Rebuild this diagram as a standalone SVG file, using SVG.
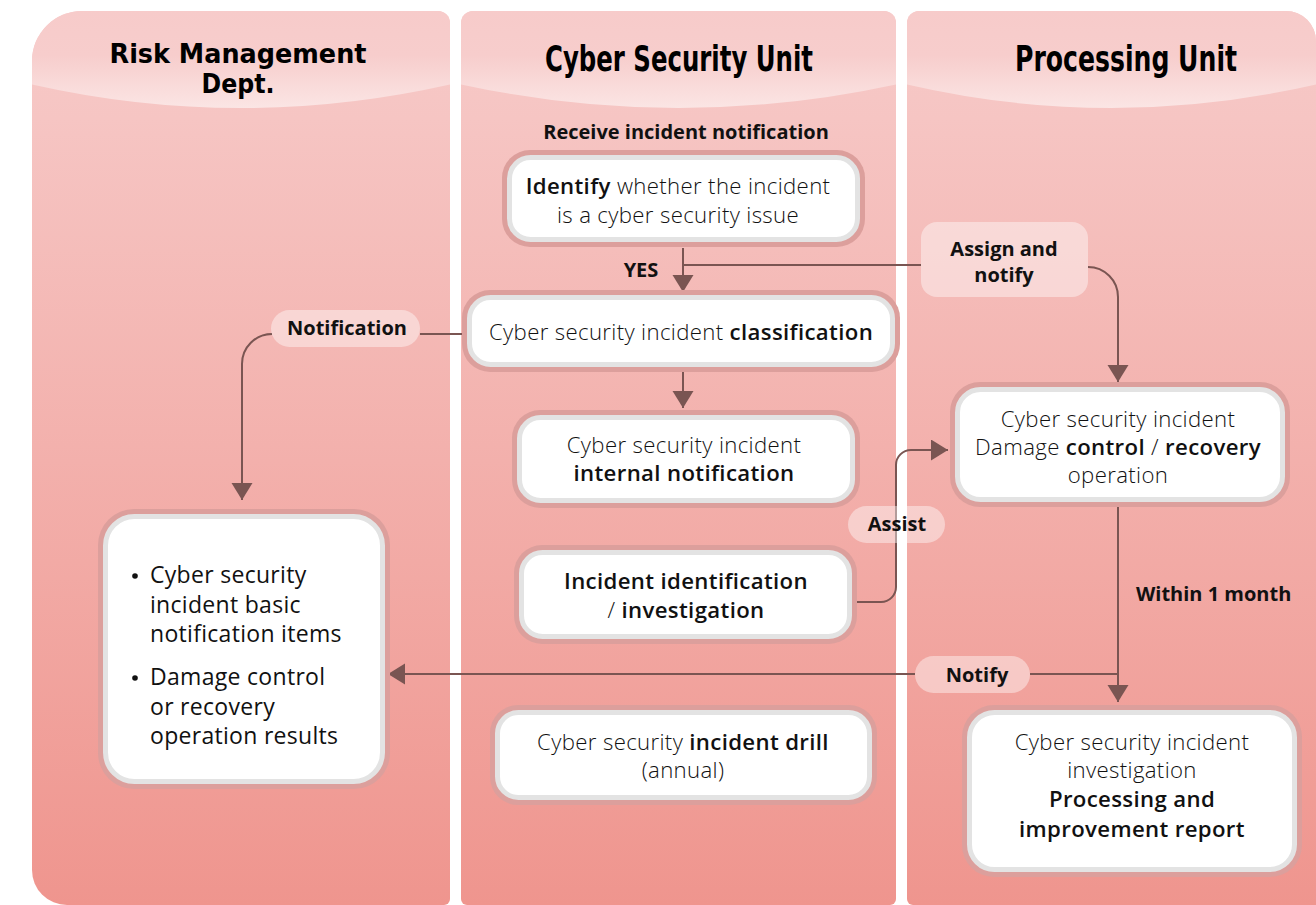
<svg xmlns="http://www.w3.org/2000/svg" width="1316" height="905" viewBox="0 0 1316 905">
<defs>
<linearGradient id="body" gradientUnits="userSpaceOnUse" x1="0" y1="11" x2="0" y2="905">
<stop offset="0" stop-color="#f7cac8"/>
<stop offset="0.12" stop-color="#f6c5c3"/>
<stop offset="1" stop-color="#ef958e"/>
</linearGradient>
<linearGradient id="head" gradientUnits="userSpaceOnUse" x1="0" y1="11" x2="0" y2="110">
<stop offset="0" stop-color="#f7cbca"/>
<stop offset="0.45" stop-color="#f7cdcc"/>
<stop offset="1" stop-color="#fbe6e5"/>
</linearGradient>
<clipPath id="c1"><path d="M82,11 H438 A12,12 0 0 1 450,23 V899 A6,6 0 0 1 444,905 H67 A35,35 0 0 1 32,870 V61 A50,50 0 0 1 82,11 Z"/></clipPath>
<clipPath id="c2"><path d="M473,11 H884 A12,12 0 0 1 896,23 V899 A6,6 0 0 1 890,905 H467 A6,6 0 0 1 461,899 V23 A12,12 0 0 1 473,11 Z"/></clipPath>
<clipPath id="c3"><path d="M919,11 H1286 A30,30 0 0 1 1316,41 V905 H913 A6,6 0 0 1 907,899 V23 A12,12 0 0 1 919,11 Z"/></clipPath>
<marker id="ah" markerUnits="userSpaceOnUse" markerWidth="18" markerHeight="22" refX="17" refY="10.5" orient="auto" viewBox="0 0 18 22">
<path d="M0,0 L17,10.5 L0,21 Z" fill="#7a5552"/>
</marker>
<style>
.hd{font-family:"Liberation Sans Narrow","DejaVu Sans Condensed","Liberation Sans",sans-serif;font-weight:bold;fill:#000;text-anchor:middle}
.t{font-family:"Open Sans","Noto Sans","Liberation Sans",sans-serif;font-size:22.2px;letter-spacing:0.35px;fill:#111;text-anchor:middle;font-weight:300}
.b{font-weight:600}
.lb{font-family:"Open Sans","Noto Sans","Liberation Sans",sans-serif;font-size:20px;font-weight:700;fill:#111;text-anchor:middle}
.lt{font-family:"Open Sans","Noto Sans","Liberation Sans",sans-serif;font-size:23px;letter-spacing:0.3px;font-weight:400;fill:#111}
.rim{fill:#dc9f9c}
.in{fill:#fff;stroke:#e3e3e3;stroke-width:5}
.pill{fill:#fff;fill-opacity:0.42}
.cn{fill:none;stroke:#7a5552;stroke-width:2}
</style>
</defs>

<g id="lanes">
<g id="lane-risk">
<path d="M82,11 H438 A12,12 0 0 1 450,23 V899 A6,6 0 0 1 444,905 H67 A35,35 0 0 1 32,870 V61 A50,50 0 0 1 82,11 Z" fill="url(#body)"/>
<path clip-path="url(#c1)" d="M30,0 H452 V84 Q241,132 30,84 Z" fill="url(#head)"/>
<text class="hd" font-size="26"><tspan x="238" y="63" textLength="257" lengthAdjust="spacingAndGlyphs">Risk Management</tspan><tspan x="238" y="93" textLength="73" lengthAdjust="spacingAndGlyphs">Dept.</tspan></text>
</g>
<g id="lane-cyber">
<path d="M473,11 H884 A12,12 0 0 1 896,23 V899 A6,6 0 0 1 890,905 H467 A6,6 0 0 1 461,899 V23 A12,12 0 0 1 473,11 Z" fill="url(#body)"/>
<path clip-path="url(#c2)" d="M459,0 H898 V84 Q678.5,132 459,84 Z" fill="url(#head)"/>
<text class="hd" x="679" y="71" font-size="35" textLength="268" lengthAdjust="spacingAndGlyphs">Cyber Security Unit</text>
</g>
<g id="lane-proc">
<path d="M919,11 H1286 A30,30 0 0 1 1316,41 V905 H913 A6,6 0 0 1 907,899 V23 A12,12 0 0 1 919,11 Z" fill="url(#body)"/>
<path clip-path="url(#c3)" d="M905,0 H1318 V84 Q1111,132 905,84 Z" fill="url(#head)"/>
<text class="hd" x="1126" y="71" font-size="35" textLength="222" lengthAdjust="spacingAndGlyphs">Processing Unit</text>
</g>
</g>

<g id="connectors">
<path class="cn" d="M683,248 V292" marker-end="url(#ah)"/>
<path class="cn" d="M683,265 H921"/>
<path class="cn" d="M1088,267 A30,30 0 0 1 1118,297 V382" marker-end="url(#ah)"/>
<path class="cn" d="M462,334 H420"/>
<path class="cn" d="M272,334 A30,30 0 0 0 242,364 V500" marker-end="url(#ah)"/>
<path class="cn" d="M683,372 V408" marker-end="url(#ah)"/>
<path class="cn" d="M853,602 H881 A15,15 0 0 0 896,587 V465 A15,15 0 0 1 911,450 H948" marker-end="url(#ah)"/>
<path class="cn" d="M1118,506 V702" marker-end="url(#ah)"/>
<path class="cn" d="M1118,674 H1030"/>
<path class="cn" d="M915,674 H388" marker-end="url(#ah)"/>
</g>

<g id="labels">
<g id="lbl-receive"><text class="lb" x="686" y="139">Receive incident notification</text></g>
<g id="lbl-yes"><text class="lb" x="641" y="277">YES</text></g>
<g id="lbl-notification"><rect class="pill" x="271" y="310" width="149" height="37" rx="18.5"/><text class="lb" x="347" y="335">Notification</text></g>
<g id="lbl-assign"><rect class="pill" x="921" y="222" width="167" height="75" rx="16"/><text class="lb"><tspan x="1004" y="256">Assign and</tspan><tspan x="1004" y="282">notify</tspan></text></g>
<g id="lbl-assist"><rect class="pill" x="848" y="506" width="97" height="37" rx="18.5"/><text class="lb" x="897" y="531">Assist</text></g>
<g id="lbl-notify"><rect class="pill" x="915" y="656" width="115" height="37" rx="18.5"/><text class="lb" x="977" y="682">Notify</text></g>
<g id="lbl-month"><text class="lb" x="1136" y="601" style="text-anchor:start">Within 1 month</text></g>
</g>

<g id="n-identify">
<rect class="rim" x="502" y="150" width="363" height="97" rx="28"/>
<rect class="in" x="509.5" y="157.5" width="348" height="82" rx="21"/>
<text class="t"><tspan x="678" y="194"><tspan class="b">Identify</tspan> whether the incident</tspan><tspan x="678" y="223">is a cyber security issue</tspan></text>
</g>

<g id="n-classification">
<rect class="rim" x="462" y="290" width="438" height="82" rx="28"/>
<rect class="in" x="469.5" y="297.5" width="423" height="67" rx="21"/>
<text class="t" x="681" y="340">Cyber security incident <tspan class="b">classification</tspan></text>
</g>

<g id="n-internal">
<rect class="rim" x="512" y="410" width="348" height="98" rx="28"/>
<rect class="in" x="519.5" y="417.5" width="333" height="83" rx="21"/>
<text class="t"><tspan x="684" y="453">Cyber security incident</tspan><tspan class="b" x="684" y="481">internal notification</tspan></text>
</g>

<g id="n-investigation">
<rect class="rim" x="514" y="545" width="343" height="99" rx="28"/>
<rect class="in" x="521.5" y="552.5" width="328" height="84" rx="21"/>
<text class="t b"><tspan x="686" y="589">Incident identification</tspan><tspan x="686" y="618"><tspan font-weight="300">/</tspan> investigation</tspan></text>
</g>

<g id="n-drill">
<rect class="rim" x="490" y="705" width="387" height="100" rx="28"/>
<rect class="in" x="497.5" y="712.5" width="372" height="85" rx="21"/>
<text class="t"><tspan x="683" y="750">Cyber security <tspan class="b">incident drill</tspan></tspan><tspan x="683" y="778">(annual)</tspan></text>
</g>

<g id="n-damage">
<rect class="rim" x="950" y="382" width="340" height="125" rx="30"/>
<rect class="in" x="957.5" y="389.5" width="325" height="110" rx="23"/>
<text class="t"><tspan x="1118" y="427">Cyber security incident</tspan><tspan x="1118" y="455">Damage <tspan class="b">control</tspan> / <tspan class="b">recovery</tspan></tspan><tspan x="1118" y="483">operation</tspan></text>
</g>

<g id="n-report">
<rect class="rim" x="962" y="705" width="340" height="172" rx="32"/>
<rect class="in" x="969.5" y="712.5" width="325" height="157" rx="25"/>
<text class="t"><tspan x="1132" y="750">Cyber security incident</tspan><tspan x="1132" y="778">investigation</tspan><tspan class="b" x="1132" y="807">Processing and</tspan><tspan class="b" x="1132" y="837">improvement report</tspan></text>
</g>

<g id="n-riskbox">
<rect class="rim" x="98" y="509" width="292" height="280" rx="36"/>
<rect class="in" x="105.5" y="516.5" width="277" height="265" rx="29"/>
<circle cx="135" cy="576" r="2.8" fill="#111"/>
<circle cx="135" cy="678" r="2.8" fill="#111"/>
<text class="lt"><tspan x="150" y="583">Cyber security</tspan><tspan x="150" y="613">incident basic</tspan><tspan x="150" y="642">notification items</tspan><tspan x="150" y="685">Damage control</tspan><tspan x="150" y="715">or recovery</tspan><tspan x="150" y="744">operation results</tspan></text>
</g>
</svg>
